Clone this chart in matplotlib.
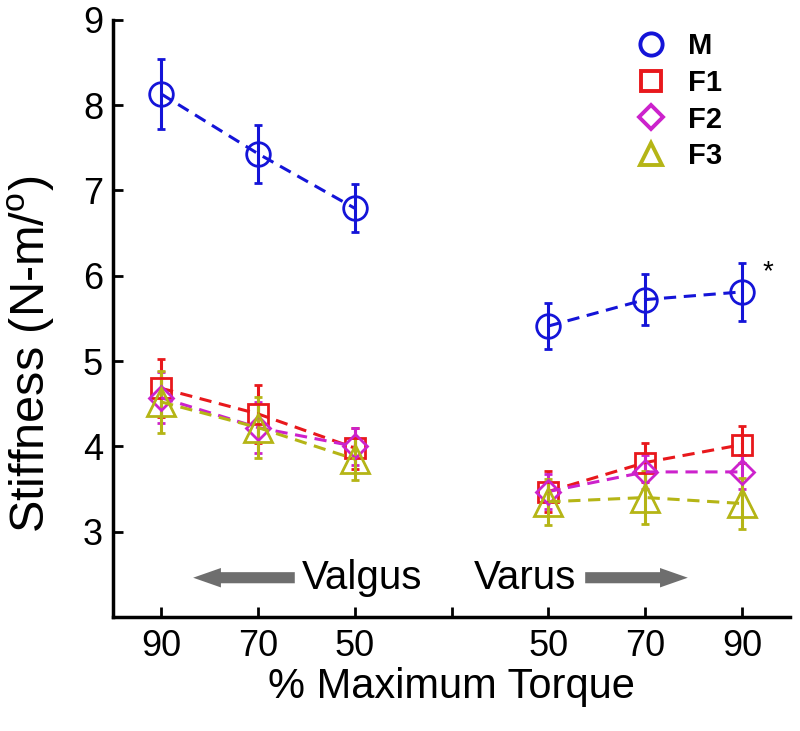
import numpy as np
import matplotlib.pyplot as plt
from matplotlib.lines import Line2D

plt.rcParams['font.family'] = ['Liberation Sans', 'DejaVu Sans']

# x positions: valgus 90,70,50 then varus 50,70,90 (gap at 4)
x_valgus = [1, 2, 3]
x_varus = [5, 6, 7]
tick_pos = [1, 2, 3, 4, 5, 6, 7]
tick_labels = ['90', '70', '50', '', '50', '70', '90']

groups = ['M', 'F1', 'F2', 'F3']
valgus_mean = {'M': [8.13, 7.43, 6.79], 'F1': [4.68, 4.38, 3.98],
               'F2': [4.57, 4.22, 4.00], 'F3': [4.52, 4.22, 3.85]}
valgus_err = {'M': [0.41, 0.34, 0.28], 'F1': [0.34, 0.34, 0.24],
              'F2': [0.30, 0.30, 0.22], 'F3': [0.36, 0.36, 0.25]}
varus_mean = {'M': [5.41, 5.72, 5.81], 'F1': [3.47, 3.81, 4.02],
              'F2': [3.47, 3.70, 3.70], 'F3': [3.35, 3.40, 3.33]}
varus_err = {'M': [0.27, 0.30, 0.34], 'F1': [0.24, 0.23, 0.22],
             'F2': [0.20, 0.20, 0.20], 'F3': [0.27, 0.31, 0.30]}

colors = {'M': '#1414d8', 'F1': '#e8181c', 'F2': '#cc22cc', 'F3': '#b5b516'}
markers = {'M': 'o', 'F1': 's', 'F2': 'D', 'F3': '^'}
msize = {'M': 17, 'F1': 14, 'F2': 12, 'F3': 20}
leg_size = {'M': 16, 'F1': 14, 'F2': 12, 'F3': 16}

fig = plt.figure(figsize=(8, 7.31), dpi=100)
ax = fig.add_axes([0.141, 0.156, 0.847, 0.817])

for g in groups:
    for xs, ys, es in [(x_valgus, valgus_mean[g], valgus_err[g]),
                       (x_varus, varus_mean[g], varus_err[g])]:
        ax.errorbar(xs, ys, yerr=es, color=colors[g], marker=markers[g],
                    markersize=msize[g], markerfacecolor='none',
                    markeredgewidth=2, linestyle='--', linewidth=2.2,
                    elinewidth=2.2, capsize=3, capthick=2, dashes=(4, 2.5))

ax.text(7.27, 6.04, '*', fontsize=20, ha='center', va='center')

# direction arrows
arrow = dict(arrowstyle='simple,head_length=1.0,head_width=0.7,tail_width=0.4',
             mutation_scale=20, fc='#6e6e6e', ec='none', shrinkA=0, shrinkB=0)
ax.annotate('', xy=(1.33, 2.46), xytext=(2.38, 2.46), arrowprops=arrow)
ax.text(2.45, 2.46, 'Valgus', fontsize=29, ha='left', va='center')
ax.annotate('', xy=(6.44, 2.46), xytext=(5.38, 2.46), arrowprops=arrow)
ax.text(5.29, 2.46, 'Varus', fontsize=29, ha='right', va='center')

ax.set_xlim(0.5, 7.5)
ax.set_ylim(2, 9)
ax.set_xticks(tick_pos)
ax.set_xticklabels(tick_labels)
ax.set_yticks([3, 4, 5, 6, 7, 8, 9])
ax.tick_params(direction='in', length=7, width=2, labelsize=26)
ax.tick_params(axis='x', pad=9)
ax.tick_params(axis='y', pad=7)
for s in ['top', 'right']:
    ax.spines[s].set_visible(False)
for s in ['left', 'bottom']:
    ax.spines[s].set_linewidth(2.5)

ax.set_xlabel('% Maximum Torque', fontsize=30, labelpad=2)
ax.set_ylabel('Stiffness (N-m/$^\\mathregular{o}$)', fontsize=35)
ax.yaxis.set_label_coords(-0.082, 0.44)

handles = [Line2D([], [], color=colors[g], marker=markers[g], linestyle='none',
                  markersize=leg_size[g], markerfacecolor='none',
                  markeredgewidth=2.8) for g in groups]
ax.legend(handles, groups, loc='upper left', bbox_to_anchor=(0.795, 0.956),
          bbox_transform=fig.transFigure, borderaxespad=0, borderpad=0,
          frameon=False, prop={'weight': 'bold', 'size': 21},
          handletextpad=0.8, labelspacing=0.3, handlelength=1.0)

fig.savefig('out.png', dpi=100)
